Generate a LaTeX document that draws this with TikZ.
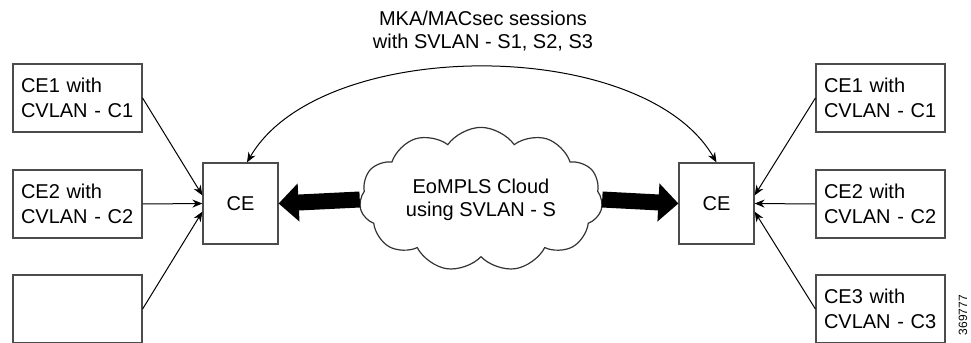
\documentclass[tikz,border=0pt]{standalone}
\usepackage{fontspec}
\setmainfont{Liberation Sans}
\usetikzlibrary{shapes.symbols,arrows.meta}

\begin{document}
\begin{tikzpicture}[x=0.5pt,y=-0.5pt,
    cebox/.style={draw=black!70,line width=0.6pt,minimum width=64.5pt,minimum height=34pt,
        inner xsep=4pt,inner ysep=0pt,text width=56.5pt,align=left,font=\fontsize{10}{12.5}\selectfont},
    edgebox/.style={draw=black!70,line width=0.6pt,minimum width=37.5pt,minimum height=40.5pt,
        inner sep=0pt,font=\fontsize{10}{12.5}\selectfont},
    link/.style={draw,line width=0.5pt,-{Stealth[length=5pt,width=4pt]}},
    fat/.style={draw,line width=8pt,-{Triangle[length=10pt,width=18.5pt]}}]
    \useasboundingbox (0,0) rectangle (971,343);

    % Customer boxes, left side
    \node [cebox] (l1) at (77.5,98) {CE1 with\\CVLAN - C1};
    \node [cebox] (l2) at (77.5,204) {CE2 with\\CVLAN - C2};
    \node [cebox] (l3) at (77.5,309) {};

    % Customer boxes, right side
    \node [cebox] (r1) at (880.5,98) {CE1 with\\CVLAN - C1};
    \node [cebox] (r2) at (880.5,204) {CE2 with\\CVLAN - C2};
    \node [cebox] (r3) at (880.5,309) {CE3 with\\CVLAN - C3};

    % Edge devices
    \node [edgebox] (ceL) at (240.5,203.5) {CE};
    \node [edgebox] (ceR) at (716.5,203.5) {CE};

    % Provider cloud
    \node [cloud,draw=black!80,line width=0.6pt,cloud puffs=11,cloud puff arc=110,aspect=1.8,
        minimum width=121.5pt,minimum height=67.5pt,inner sep=0pt,
        font=\fontsize{10}{11.5}\selectfont,align=center] (cloud) at (481,199.5)
        {EoMPLS Cloud\\using SVLAN - S};

    % Sessions label
    \node [font=\fontsize{10}{11.5}\selectfont,align=center] (mka) at (483,31)
        {MKA/MACsec sessions\\with SVLAN - S1, S2, S3};

    % Links into the edge devices
    \draw [link] (l1.east) -- (ceL.168);
    \draw [link] (l2.east) -- (ceL.west);
    \draw [link] (l3.east) -- (ceL.192);
    \draw [link] (r1.west) -- (ceR.12);
    \draw [link] (r2.west) -- (ceR.east);
    \draw [link] (r3.west) -- (ceR.-12);

    % Cloud to edge devices
    \draw [fat] (cloud.west) -- (ceL.east);
    \draw [fat] (cloud.east) -- (ceR.west);

    % Session arc
    \draw [line width=0.5pt,{Stealth[length=5pt,width=4pt]}-{Stealth[length=5pt,width=4pt]}]
        (ceL.81) to[out=60,in=120,looseness=0.8] (ceR.north);

    % Figure number
    \node [rotate=90,font=\fontsize{6}{7}\selectfont] (fig) at (963,315) {369777};
\end{tikzpicture}
\end{document}
